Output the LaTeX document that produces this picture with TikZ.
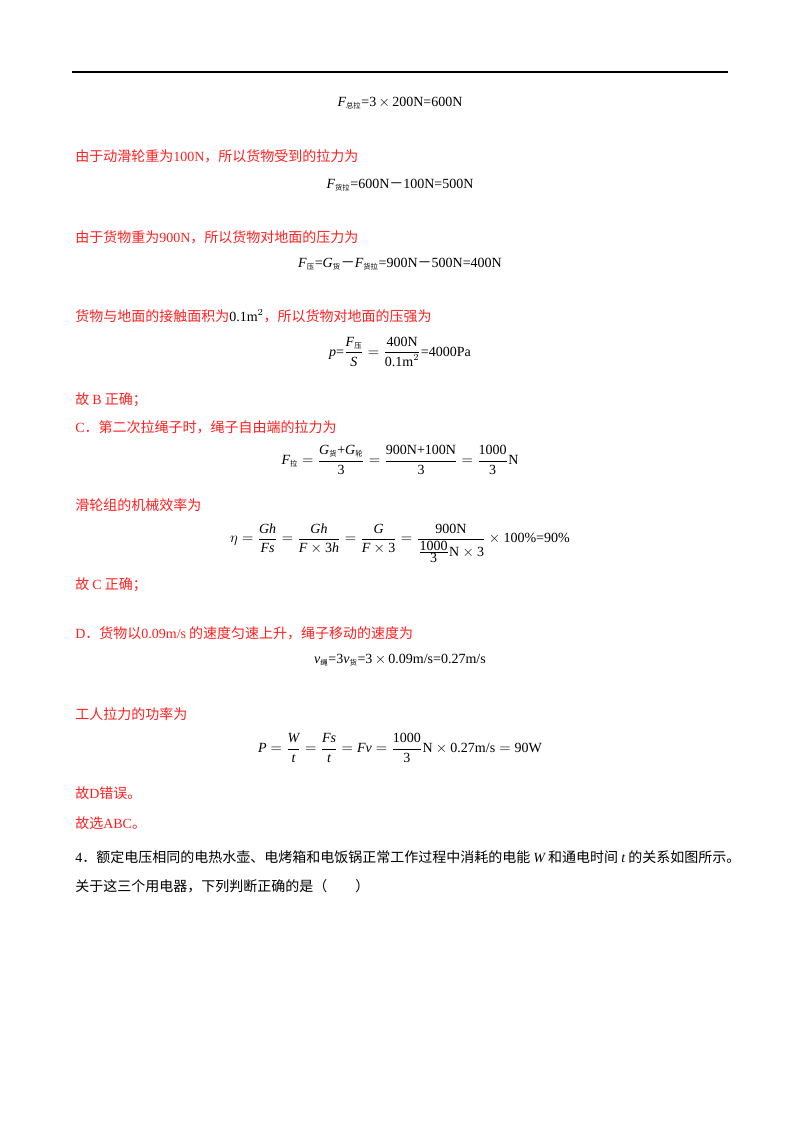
\documentclass[tikz,border=0pt]{standalone}
\usepackage{fontspec}
\setmainfont{Liberation Serif}
\newfontfamily\cjk{Noto Sans CJK SC}
\definecolor{ansred}{HTML}{FF2020}
\newcommand{\zs}[1]{\mbox{\cjk\fontsize{5.5}{6}\selectfont #1}}
\newcommand{\tx}[1]{\mbox{#1}}
\newcommand{\iv}[1]{\mbox{\itshape #1}}
\newcommand{\mn}{{\cjk －}}
\tikzset{
 red/.style={anchor=west,text=ansred,font=\cjk\fontsize{10.5}{12}\selectfont,inner sep=0pt},
 blk/.style={anchor=west,text=black,font=\cjk\fontsize{10.5}{12}\selectfont,inner sep=0pt},
 eq/.style={anchor=center,font=\fontsize{10.5}{12}\selectfont,inner sep=0pt}
}
\begin{document}
\begin{tikzpicture}[x=0.75pt,y=-0.75pt]
\useasboundingbox (0,0) rectangle (800,1132);
\draw[line width=1.2pt] (72,72) coordinate (r1) -- (728,72) coordinate (r2);
\node[eq] (e1) at (400,103) {$\iv{F}_{\zs{总拉}}$=3\,$\times$\,200N=600N};
\node[red] (t1) at (75,156) {由于动滑轮重为{\rmfamily 100N}，所以货物受到的拉力为};
\node[eq] (e2) at (400,185) {$\iv{F}_{\zs{货拉}}$=600N\mn100N=500N};
\node[red] (t2) at (75,237) {由于货物重为{\rmfamily 900N}，所以货物对地面的压力为};
\node[eq] (e3) at (400,264) {$\iv{F}_{\zs{压}}$=$\iv{G}_{\zs{货}}$\mn$\iv{F}_{\zs{货拉}}$=900N\mn500N=400N};
\node[red] (t3) at (75,316) {货物与地面的接触面积为{\color{black}\rmfamily 0.1m$^2$}，所以货物对地面的压强为};
\node[eq] (e4) at (400,352) {\iv{p}=$\displaystyle\frac{\iv{F}_{\zs{压}}}{\iv{S}}=\frac{\tx{400N}}{\tx{0.1m}^2}$=4000Pa};
\node[red] (t4) at (75,400) {故 {\rmfamily B} 正确；};
\node[red] (t5) at (75,427) {{\rmfamily C}．第二次拉绳子时，绳子自由端的拉力为};
\node[eq] (e5) at (400,460) {$\iv{F}_{\zs{拉}}=\displaystyle\frac{\iv{G}_{\zs{货}}\tx{+}\iv{G}_{\zs{轮}}}{\tx{3}}=\frac{\tx{900N+100N}}{\tx{3}}=\frac{\tx{1000}}{\tx{3}}\tx{N}$};
\node[red] (t6) at (75,505) {滑轮组的机械效率为};
\node[eq] (e6) at (400,543) {$\eta=\displaystyle\frac{\iv{Gh}}{\iv{Fs}}=\frac{\iv{Gh}}{\iv{F}\times\tx{3}\iv{h}}=\frac{\iv{G}}{\iv{F}\times\tx{3}}=\frac{\tx{900N}}{\frac{\tx{1000}}{\tx{3}}\tx{N}\times\tx{3}}\times\tx{100\%=90\%}$};
\node[red] (t7) at (75,585) {故 {\rmfamily C} 正确；};
\node[red] (t8) at (75,633) {{\rmfamily D}．货物以{\rmfamily 0.09m/s} 的速度匀速上升，绳子移动的速度为};
\node[eq] (e7) at (400,660) {$\iv{v}_{\zs{绳}}$=3$\iv{v}_{\zs{货}}$=3\,$\times$\,0.09m/s=0.27m/s};
\node[red] (t9) at (75,714) {工人拉力的功率为};
\node[eq] (e8) at (400,748) {$\iv{P}=\displaystyle\frac{\iv{W}}{\iv{t}}=\frac{\iv{Fs}}{\iv{t}}=\iv{Fv}=\frac{\tx{1000}}{\tx{3}}\tx{N}\times\tx{0.27m/s}=\tx{90W}$};
\node[red] (t10) at (75,793) {故{\rmfamily D}错误。};
\node[red] (t11) at (75,823) {故选{\rmfamily ABC}。};
\node[blk] (q1) at (75,857) {{\rmfamily 4}．额定电压相同的电热水壶、电烤箱和电饭锅正常工作过程中消耗的电能 {\rmfamily\itshape W} 和通电时间 {\rmfamily\itshape t} 的关系如图所示。};
\node[blk] (q2) at (75,886) {关于这三个用电器，下列判断正确的是（\quad\quad）};
\end{tikzpicture}
\end{document}
